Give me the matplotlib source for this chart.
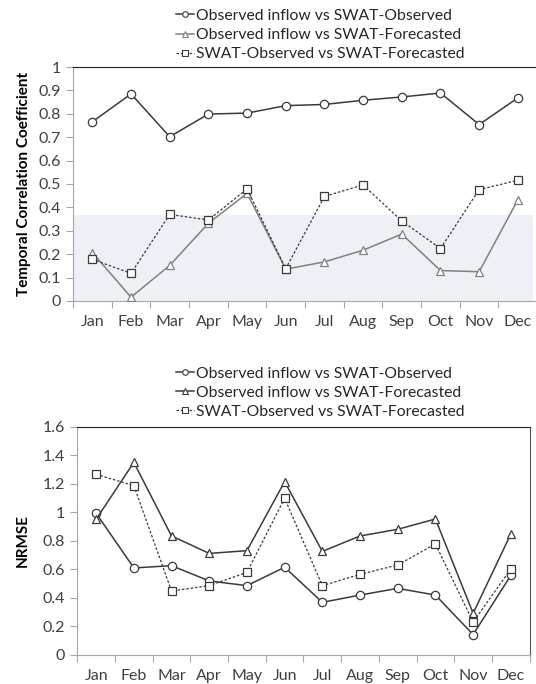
import matplotlib
matplotlib.use("Agg")
import matplotlib.pyplot as plt
from matplotlib.lines import Line2D

plt.rcParams['font.family'] = ['Lato', 'DejaVu Sans']

months = ['Jan', 'Feb', 'Mar', 'Apr', 'May', 'Jun', 'Jul', 'Aug', 'Sep', 'Oct', 'Nov', 'Dec']
labels = ['Observed inflow vs SWAT-Observed',
          'Observed inflow vs SWAT-Forecasted',
          'SWAT-Observed vs SWAT-Forecasted']

# temporal correlation coefficient
tcc_obs_swatobs = [0.766, 0.885, 0.702, 0.799, 0.803, 0.835, 0.840, 0.858, 0.872, 0.889, 0.754, 0.868]
tcc_obs_swatfc = [0.207, 0.016, 0.152, 0.332, 0.460, 0.136, 0.167, 0.217, 0.286, 0.130, 0.125, 0.432]
tcc_swatobs_swatfc = [0.178, 0.118, 0.370, 0.346, 0.479, 0.138, 0.447, 0.496, 0.342, 0.224, 0.476, 0.516]
tcc_band = 0.367

# normalised RMSE
nrmse_obs_swatobs = [0.993, 0.610, 0.626, 0.519, 0.486, 0.615, 0.369, 0.420, 0.467, 0.420, 0.143, 0.558]
nrmse_obs_swatfc = [0.951, 1.350, 0.834, 0.712, 0.731, 1.215, 0.726, 0.834, 0.881, 0.953, 0.292, 0.848]
nrmse_swatobs_swatfc = [1.266, 1.187, 0.448, 0.486, 0.579, 1.098, 0.486, 0.565, 0.631, 0.778, 0.231, 0.603]

dark = '#3a3a3a'
light = '#808080'
axis_col = '#a6a6a6'
txt = '#404040'

fig = plt.figure(figsize=(5.36, 6.84), dpi=100)


def style_axes(ax, ymax, step):
    x = range(len(months))
    ax.set_xlim(-0.5, len(months) - 0.5)
    ax.set_ylim(0, ymax)
    ax.set_xticks([i - 0.5 for i in range(len(months) + 1)])
    ax.set_xticklabels([])
    ax.set_xticks(list(x), minor=True)
    ax.set_xticklabels(months, minor=True, fontsize=11.5, color=txt)
    ax.tick_params(axis='x', which='major', direction='out', length=5, color=axis_col)
    ax.tick_params(axis='x', which='minor', length=0, pad=10)
    n = int(round(ymax / step))
    ticks = [round(i * step, 2) for i in range(n + 1)]
    ax.set_yticks(ticks)
    ax.set_yticklabels(['%g' % t for t in ticks], fontsize=11.5, color=txt)
    ax.tick_params(axis='y', direction='out', length=5, color=axis_col, pad=4)
    ax.spines['left'].set_color(axis_col)
    ax.spines['bottom'].set_color(axis_col)
    ax.spines['top'].set_color('#202020')
    ax.spines['right'].set_color('#505050')


def draw(ax, a, b, c, col_b):
    x = range(len(months))
    ax.plot(x, a, '-', color=dark, lw=1.1, marker='o', ms=6, mfc='white', mec=dark, mew=0.9, zorder=3)
    ax.plot(x, b, '-', color=col_b, lw=1.1, marker='^', ms=6, mfc='white', mec=col_b, mew=0.9, zorder=3)
    ax.plot(x, c, '--', color=dark, lw=0.9, dashes=(2, 1.5), marker='s', ms=6, mfc='white', mec=dark,
            mew=0.9, zorder=4)


def legend(ax, col_b, y):
    handles = [
        Line2D([], [], color=dark, lw=1.1, marker='o', ms=4, mfc='white', mec=dark, mew=0.8),
        Line2D([], [], color=col_b, lw=1.1, marker='^', ms=4, mfc='white', mec=col_b, mew=0.8),
        Line2D([], [], color=dark, lw=0.9, ls=(0, (2, 1.5)), marker='s', ms=4, mfc='white', mec=dark, mew=0.8),
    ]
    leg = fig.legend(handles, labels, loc='upper left', bbox_to_anchor=(0.328, y), frameon=False,
                     fontsize=11.3, handlelength=1.15, handletextpad=0.15, labelspacing=0.33,
                     borderpad=0, borderaxespad=0)
    for t in leg.get_texts():
        t.set_color('#262626')


# top: correlation
ax1 = fig.add_axes([0.1362, 0.56, 0.866, 0.342])
ax1.axhspan(0, tcc_band, xmin=0, xmax=0.99, color='#edf1f5', lw=0, zorder=0)
draw(ax1, tcc_obs_swatobs, tcc_obs_swatfc, tcc_swatobs_swatfc, light)
style_axes(ax1, 1.0, 0.1)
ax1.spines['right'].set_visible(False)
ax1.set_ylabel('Temporal Correlation Coefficient', fontsize=11, fontweight='bold', labelpad=5)
legend(ax1, light, 0.987)

# bottom: NRMSE
ax2 = fig.add_axes([0.1442, 0.0424, 0.844, 0.3338])
draw(ax2, nrmse_obs_swatobs, nrmse_obs_swatfc, nrmse_swatobs_swatfc, dark)
style_axes(ax2, 1.6, 0.2)
ax2.set_ylabel('NRMSE', fontsize=11, fontweight='bold', labelpad=9)
legend(ax2, dark, 0.464)

fig.savefig('out.png', dpi=100)
